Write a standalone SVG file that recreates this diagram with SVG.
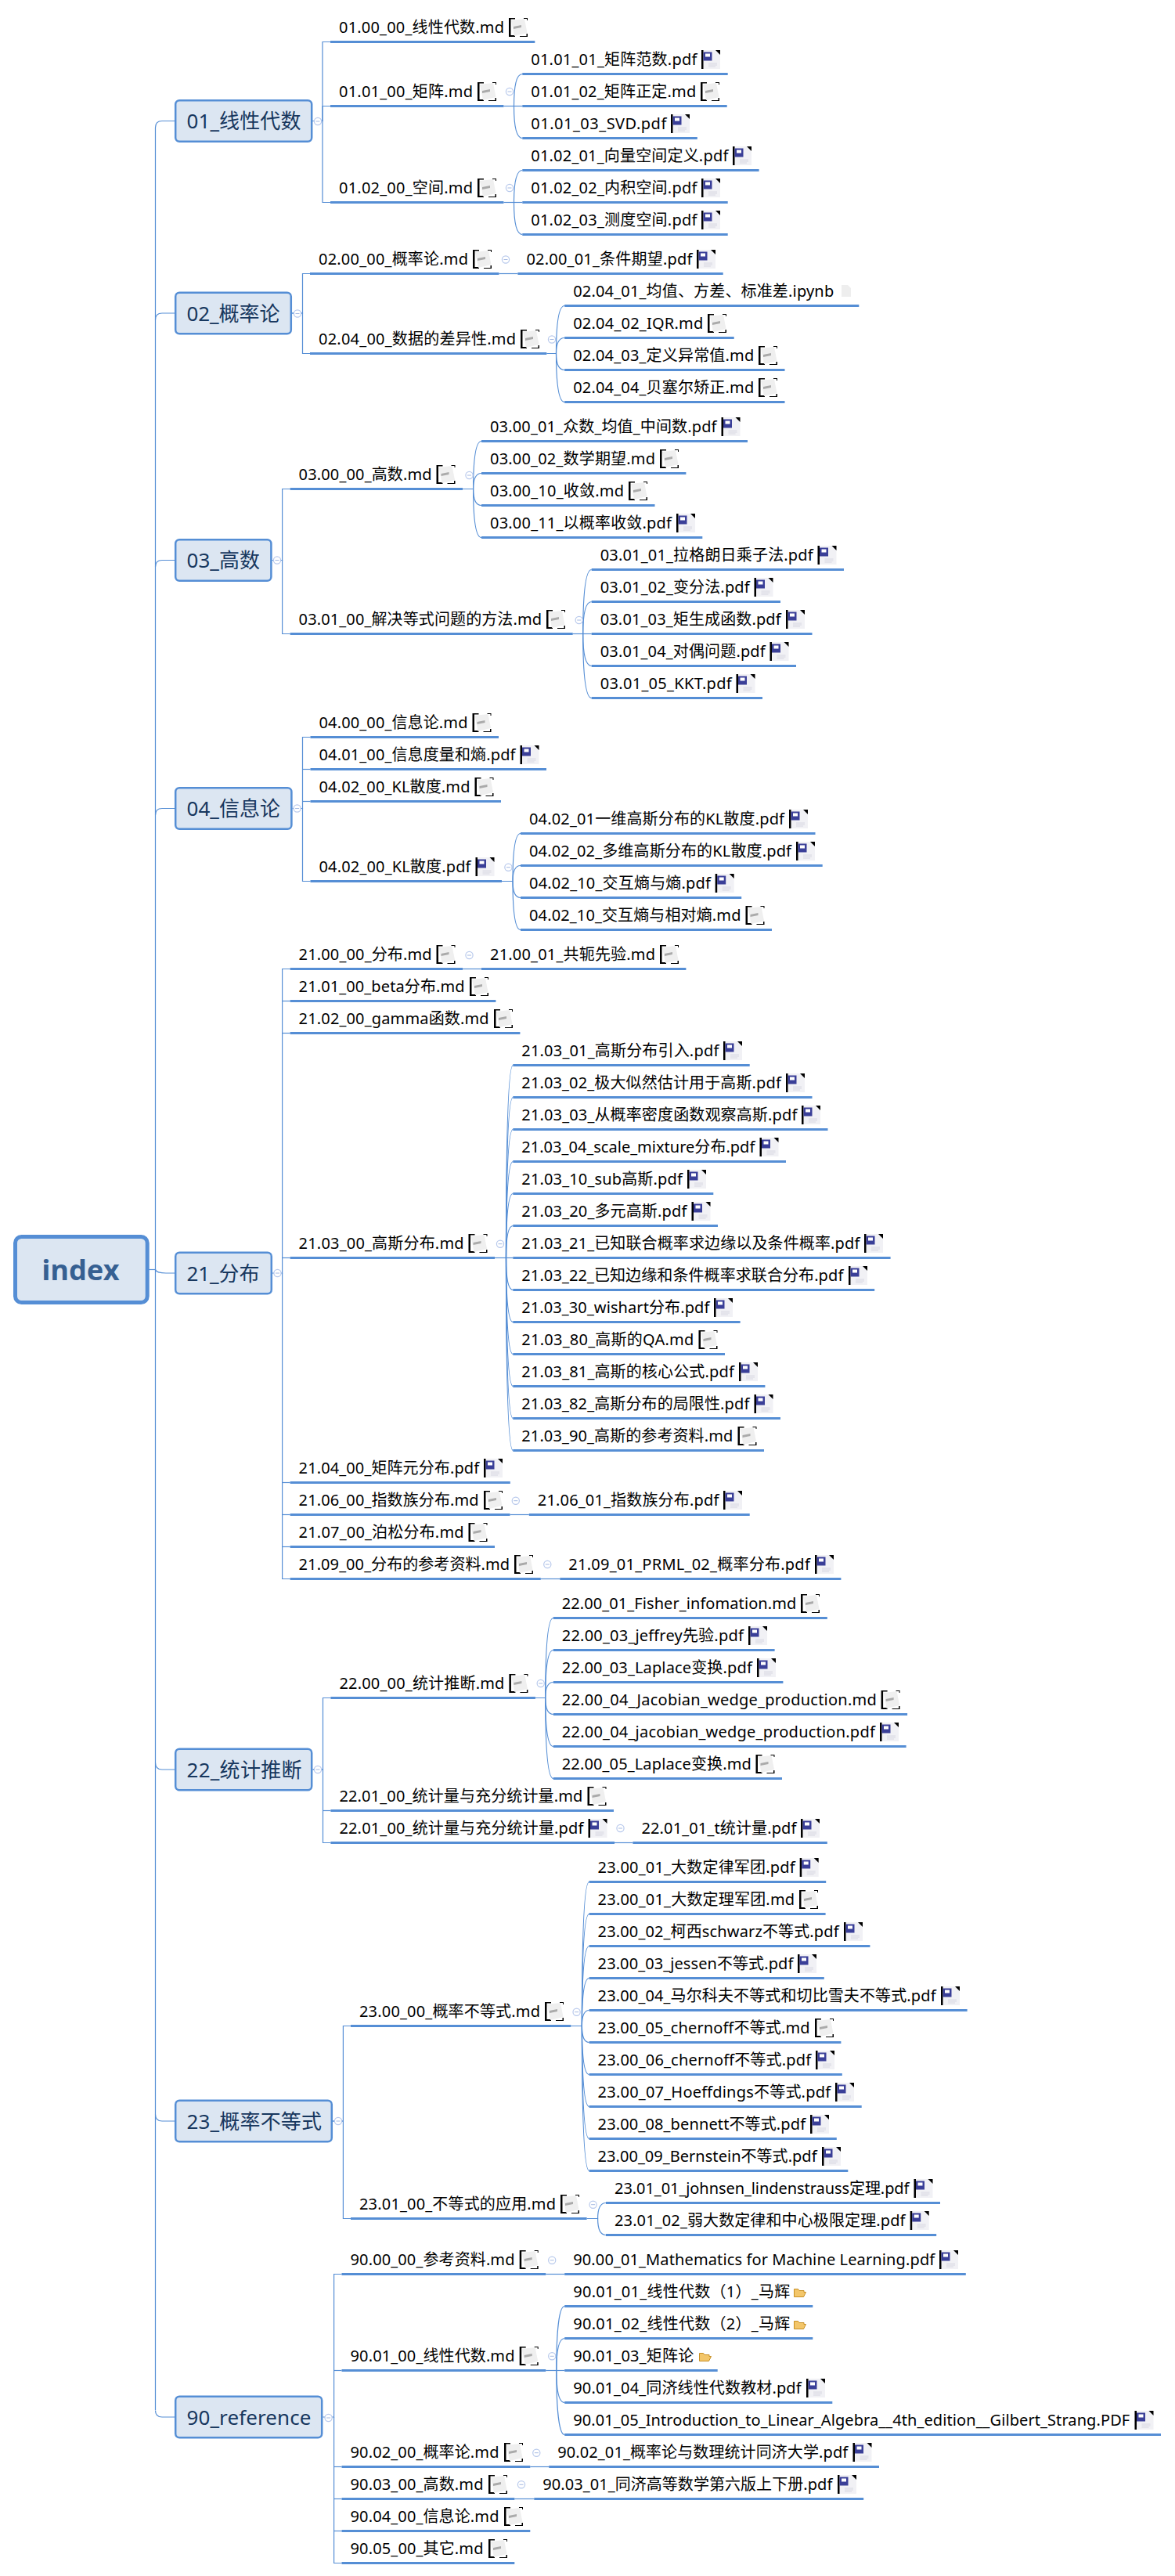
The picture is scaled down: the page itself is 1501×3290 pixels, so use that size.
<svg xmlns="http://www.w3.org/2000/svg" width="1501" height="3290" viewBox="0 0 1501 3290">
<style>
text{font-family:"Noto Sans","Noto Sans CJK SC",sans-serif;fill:#000;font-size:20px}
text.tp{font-size:26px;fill:#17375e}
text.rt{font-size:36px;font-weight:700;fill:#366092}
rect.u{fill:#558ed5;height:3px}
rect.topic{fill:#dce6f2;stroke:#558ed5;stroke-width:2.5}
rect.root{fill:#dce6f2;stroke:#558ed5;stroke-width:5}
#connectors path{fill:none;stroke:#558ed5;stroke-width:1.2}
</style>
<defs>
<g id="md"><path d="M0 0H8V1.5H2.5V22H8V24H0zM19 0H24V3H23V1H19zM14 23H22.5V20H24V24H14z" fill="#000"/><polygon points="3,3 20,1 23.5,19 7,23" fill="#efefef"/><path d="M6 11l10-2v3l-10 2z" fill="#aaa"/></g>
<g id="pdf"><rect width="24" height="24" fill="#f1f1f5"/><rect width="2.5" height="24" fill="#000"/><polygon points="18,0 24,0 24,6" fill="#000"/><rect x="2.5" y="2.5" width="11" height="11" fill="#3a3f98"/><rect x="5" y="4.5" width="6" height="4" fill="#fff"/><path d="M9 17h11M9 19h11M9 21h9" stroke="#d8d8e2" fill="none"/></g>
<g id="fold"><path d="M.5 1.5h5l1.5 2h6v2h2.5l-3 6h-12z" fill="#f3c66a" stroke="#c78f24"/></g>
<g id="nb"><path d="M0 0h8l4 4v11H0z" fill="#eee"/></g>
<g id="cc"><circle r="4.6" fill="#fff" stroke="#b8c9ec" stroke-width="1.2"/><path d="M-2.5 0h5" stroke="#a6bae2"/></g>
</defs>
<g id="connectors">
<path d="M190 1621.5H198.5"/><path d="M198.5 163V3078"/>
<path d="M198.5 163Q198.5 154.5 207 154.5H224"/><path d="M198.5 408.5Q198.5 400 207 400H224"/><path d="M198.5 724Q198.5 715.5 207 715.5H224"/><path d="M198.5 1041Q198.5 1032.5 207 1032.5H224"/>
<path d="M198.5 1621.5Q200 1626 212 1626H224"/><path d="M198.5 2251.5Q198.5 2260 207 2260H224"/><path d="M198.5 2700.5Q198.5 2709 207 2709H224"/><path d="M198.5 3078.5Q198.5 3087 207 3087H224"/>
<path d="M399 154.5H412V53.5H422"/><path d="M399 154.5H412V135.5H422"/><path d="M399 154.5H412V258.5H422"/>
<path d="M643.4 135.5H667.3"/><path d="M656.5 135.5C656.5 110.5 659.5 94.5 667.3 94.5"/><path d="M656.5 135.5C656.5 160.5 659.5 176.5 667.3 176.5"/>
<path d="M643.4 258.5H667.3"/><path d="M656.5 258.5C656.5 233.5 659.5 217.5 667.3 217.5"/><path d="M656.5 258.5C656.5 283.5 659.5 299.5 667.3 299.5"/>
<path d="M373 400H386.5V349.5H396"/><path d="M373 400H386.5V451.5H396"/><path d="M637.4 349.5H661.4"/>
<path d="M698.3 451.5H710.5C710.5 415 713.5 390.5 721.2 390.5"/><path d="M710.5 451.5C710.5 439.5 713.5 431.5 721.2 431.5"/><path d="M710.5 451.5C710.5 464 713.5 472.5 721.2 472.5"/><path d="M710.5 451.5C710.5 489 713.5 513.5 721.2 513.5"/>
<path d="M347.6 715.5H360.6V624.5H370.6"/><path d="M347.6 715.5H360.6V809.5H370.6"/>
<path d="M591 624.5H604.6C604.6 588 607.7 563.5 615 563.5"/><path d="M604.6 624.5C604.6 612.5 607.7 604.5 615 604.5"/><path d="M604.6 624.5C604.6 637 607.7 645.5 615 645.5"/><path d="M604.6 624.5C604.6 661.5 607.7 686.5 615 686.5"/>
<path d="M731.7 809.5H755.7"/><path d="M744.7 809.5C744.7 760 748 727.5 755.7 727.5"/><path d="M744.7 809.5C744.7 785 748 768.5 755.7 768.5"/><path d="M744.7 809.5C744.7 834 748 850.5 755.7 850.5"/><path d="M744.7 809.5C744.7 859 748 891.5 755.7 891.5"/>
<path d="M373.6 1032.5H386.5V941.5H396.5"/><path d="M386.5 982.5H396.5"/><path d="M386.5 1023.5H396.5"/><path d="M386.5 1032.5V1125.5H396.5"/>
<path d="M641 1125.5H655C655 1089 658 1064.5 665 1064.5"/><path d="M655 1125.5C655 1113.5 658 1105.5 665 1105.5"/><path d="M655 1125.5C655 1138 658 1146.5 665 1146.5"/><path d="M655 1125.5C655 1162.5 658 1187.5 665 1187.5"/>
<path d="M347.6 1626H360.6V1237.5H370.6"/><path d="M360.6 1278.5H370.6"/><path d="M360.6 1319.5H370.6"/><path d="M360.6 1606.5H370.6"/><path d="M360.6 1626V2016.5H370.6"/><path d="M360.6 1893.5H370.6"/><path d="M360.6 1934.5H370.6"/><path d="M360.6 1975.5H370.6"/>
<path d="M591 1237.5H615"/><path d="M651.5 1934.5H675.8"/><path d="M690.8 2016.5H715.3"/>
<path d="M632 1606.5H655.3"/><path d="M646.5 1606.5C646.5 1458.5 649 1360.5 655.3 1360.5"/><path d="M646.5 1606.5C646.5 1483.5 649 1401.5 655.3 1401.5"/><path d="M646.5 1606.5C646.5 1508.5 649 1442.5 655.3 1442.5"/><path d="M646.5 1606.5C646.5 1532.5 649 1483.5 655.3 1483.5"/><path d="M646.5 1606.5C646.5 1557.5 649 1524.5 655.3 1524.5"/><path d="M646.5 1606.5C646.5 1581.5 649 1565.5 655.3 1565.5"/>
<path d="M646.5 1606.5C646.5 1631.5 649 1647.5 655.3 1647.5"/><path d="M646.5 1606.5C646.5 1655.5 649 1688.5 655.3 1688.5"/><path d="M646.5 1606.5C646.5 1680.5 649 1729.5 655.3 1729.5"/><path d="M646.5 1606.5C646.5 1704.5 649 1770.5 655.3 1770.5"/><path d="M646.5 1606.5C646.5 1729.5 649 1811.5 655.3 1811.5"/><path d="M646.5 1606.5C646.5 1754.5 649 1852.5 655.3 1852.5"/>
<path d="M399.5 2260H412.5V2168.5H422.4"/><path d="M399.5 2260H412.5V2353.5H422.4"/><path d="M412.5 2312.5H422.4"/><path d="M785 2353.5H808.4"/>
<path d="M683.9 2168.5H696.7C696.7 2107.5 699.7 2066.5 706.8 2066.5"/><path d="M696.7 2168.5C696.7 2131.5 699.7 2107.5 706.8 2107.5"/><path d="M696.7 2168.5C696.7 2156.5 699.7 2148.5 706.8 2148.5"/><path d="M696.7 2168.5C696.7 2180.5 699.7 2189.5 706.8 2189.5"/><path d="M696.7 2168.5C696.7 2205.5 699.7 2230.5 706.8 2230.5"/><path d="M696.7 2168.5C696.7 2229.5 699.7 2271.5 706.8 2271.5"/>
<path d="M425 2709H438.4V2587.5H448"/><path d="M425 2709H438.4V2833.5H448"/>
<path d="M729.3 2587.5H743.4C743.4 2477.5 746 2403.5 752.6 2403.5"/><path d="M743.4 2587.5C743.4 2501.5 746 2444.5 752.6 2444.5"/><path d="M743.4 2587.5C743.4 2526.5 746 2485.5 752.6 2485.5"/><path d="M743.4 2587.5C743.4 2550.5 746 2526.5 752.6 2526.5"/><path d="M743.4 2587.5C743.4 2575.5 746 2567.5 752.6 2567.5"/>
<path d="M743.4 2587.5C743.4 2600 746 2608.5 752.6 2608.5"/><path d="M743.4 2587.5C743.4 2624.5 746 2649.5 752.6 2649.5"/><path d="M743.4 2587.5C743.4 2649 746 2690.5 752.6 2690.5"/><path d="M743.4 2587.5C743.4 2674 746 2731.5 752.6 2731.5"/><path d="M743.4 2587.5C743.4 2698.5 746 2772.5 752.6 2772.5"/>
<path d="M749.6 2833.5H763.6C763.6 2821.5 767 2813.5 774 2813.5"/><path d="M763.6 2833.5C763.6 2846 767 2854.5 774 2854.5"/>
<path d="M412.4 3087H426.6V2904.5H436.5"/><path d="M426.6 3027.5H436.5"/><path d="M426.6 3150.5H436.5"/><path d="M426.6 3191.5H436.5"/><path d="M426.6 3232.5H436.5"/><path d="M426.6 3087V3273.5H436.5"/>
<path d="M697.2 2904.5H721.2"/><path d="M677.3 3150.5H701.2"/><path d="M657.3 3191.5H682.3"/>
<path d="M697.2 3027.5H721.2"/><path d="M710.8 3027.5C710.8 2978.5 714 2945.5 721.2 2945.5"/><path d="M710.8 3027.5C710.8 3002.5 714 2986.5 721.2 2986.5"/><path d="M710.8 3027.5C710.8 3052.5 714 3068.5 721.2 3068.5"/><path d="M710.8 3027.5C710.8 3076.5 714 3109.5 721.2 3109.5"/>
<use href="#cc" x="406" y="155"/><use href="#cc" x="651" y="117"/><use href="#cc" x="651" y="240"/>
<use href="#cc" x="380" y="400.5"/><use href="#cc" x="646" y="331.5"/><use href="#cc" x="705" y="433.5"/>
<use href="#cc" x="354" y="715.5"/><use href="#cc" x="599.5" y="607"/><use href="#cc" x="739.7" y="792"/>
<use href="#cc" x="379.6" y="1032.5"/><use href="#cc" x="649.4" y="1107.7"/>
<use href="#cc" x="354.5" y="1626"/><use href="#cc" x="599.5" y="1220"/><use href="#cc" x="639" y="1588.7"/><use href="#cc" x="658.8" y="1916.7"/><use href="#cc" x="699.3" y="1998"/>
<use href="#cc" x="406" y="2260"/><use href="#cc" x="690.7" y="2150"/><use href="#cc" x="792.5" y="2335"/>
<use href="#cc" x="432" y="2709"/><use href="#cc" x="736.6" y="2569.7"/><use href="#cc" x="757.6" y="2815.7"/>
<use href="#cc" x="419.6" y="3088"/><use href="#cc" x="705.2" y="2886.7"/><use href="#cc" x="705.2" y="3009.3"/><use href="#cc" x="685.3" y="3132.7"/><use href="#cc" x="666" y="3173.3"/>
</g>
<g id="root"><rect class="root" x="19.5" y="1579.5" width="168.7" height="84" rx="8"/><text class="rt" x="53.5" y="1635" textLength="99">index</text></g>
<g id="t01"><rect class="topic" x="224.2" y="128.2" width="174" height="52.6" rx="5"/><text class="tp" x="238.5" y="164" textLength="146">01_线性代数</text></g>
<g id="t02"><rect class="topic" x="224.2" y="373.7" width="147.6" height="52.6" rx="5"/><text class="tp" x="238.5" y="409.5" textLength="119">02_概率论</text></g>
<g id="t03"><rect class="topic" x="224.2" y="689.2" width="122.2" height="52.6" rx="5"/><text class="tp" x="238.5" y="725" textLength="93.5">03_高数</text></g>
<g id="t04"><rect class="topic" x="224.2" y="1006.2" width="148.2" height="52.6" rx="5"/><text class="tp" x="238.5" y="1042" textLength="119.5">04_信息论</text></g>
<g id="t21"><rect class="topic" x="224.2" y="1599.7" width="122.6" height="52.6" rx="5"/><text class="tp" x="238.5" y="1635.5" textLength="93">21_分布</text></g>
<g id="t22"><rect class="topic" x="224.2" y="2233.7" width="174" height="52.6" rx="5"/><text class="tp" x="238.5" y="2269.5" textLength="147">22_统计推断</text></g>
<g id="t23"><rect class="topic" x="224.2" y="2682.7" width="199.6" height="52.6" rx="5"/><text class="tp" x="238.5" y="2718.5" textLength="172.5">23_概率不等式</text></g>
<g id="t90"><rect class="topic" x="224.2" y="3060.7" width="187" height="52.6" rx="5"/><text class="tp" x="238.5" y="3096.5" textLength="159">90_reference</text></g>

<g id="n0100"><text x="433" y="41.5" textLength="211">01.00_00_线性代数.md</text><use href="#md" x="650" y="23"/><rect class="u" x="422" y="52" width="261.3"/></g>
<g id="n0101"><text x="433" y="123.5" textLength="171">01.01_00_矩阵.md</text><use href="#md" x="610" y="105"/><rect class="u" x="422" y="134" width="221.4"/></g>
<g id="n0102"><text x="433" y="246.5" textLength="171">01.02_00_空间.md</text><use href="#md" x="610" y="228"/><rect class="u" x="422" y="257" width="221.4"/></g>
<g id="n010101"><text x="678.3" y="82.5" textLength="212">01.01_01_矩阵范数.pdf</text><use href="#pdf" x="896" y="64"/><rect class="u" x="667.3" y="93" width="262.4"/></g>
<g id="n010102"><text x="678.3" y="123.5" textLength="211">01.01_02_矩阵正定.md</text><use href="#md" x="895" y="105"/><rect class="u" x="667.3" y="134" width="261.4"/></g>
<g id="n010103"><text x="678.3" y="164.5" textLength="173">01.01_03_SVD.pdf</text><use href="#pdf" x="857" y="146"/><rect class="u" x="667.3" y="175" width="223.5"/></g>
<g id="n010201"><text x="678.3" y="205.5" textLength="252">01.02_01_向量空间定义.pdf</text><use href="#pdf" x="936" y="187"/><rect class="u" x="667.3" y="216" width="302.3"/></g>
<g id="n010202"><text x="678.3" y="246.5" textLength="212">01.02_02_内积空间.pdf</text><use href="#pdf" x="896" y="228"/><rect class="u" x="667.3" y="257" width="262.4"/></g>
<g id="n010203"><text x="678.3" y="287.5" textLength="212">01.02_03_测度空间.pdf</text><use href="#pdf" x="896" y="269"/><rect class="u" x="667.3" y="298" width="262.4"/></g>

<g id="n0200"><text x="407" y="337.5" textLength="191">02.00_00_概率论.md</text><use href="#md" x="604" y="319"/><rect class="u" x="396" y="348" width="241.4"/></g>
<g id="n020001"><text x="672.4" y="337.5" textLength="212">02.00_01_条件期望.pdf</text><use href="#pdf" x="890" y="319"/><rect class="u" x="661.4" y="348" width="262.3"/></g>
<g id="n0204"><text x="407" y="439.5" textLength="252">02.04_00_数据的差异性.md</text><use href="#md" x="665" y="421"/><rect class="u" x="396" y="450" width="302.3"/></g>
<g id="n020401"><text x="732.2" y="378.5" textLength="333">02.04_01_均值、方差、标准差.ipynb</text><use href="#nb" x="1075" y="364"/><rect class="u" x="721.2" y="389" width="376.1"/></g>
<g id="n020402"><text x="732.2" y="419.5" textLength="166">02.04_02_IQR.md</text><use href="#md" x="904" y="401"/><rect class="u" x="721.2" y="430" width="216.5"/></g>
<g id="n020403"><text x="732.2" y="460.5" textLength="231">02.04_03_定义异常值.md</text><use href="#md" x="969" y="442"/><rect class="u" x="721.2" y="471" width="281.3"/></g>
<g id="n020404"><text x="732.2" y="501.5" textLength="231">02.04_04_贝塞尔矫正.md</text><use href="#md" x="969" y="483"/><rect class="u" x="721.2" y="512" width="281.3"/></g>

<g id="n0300"><text x="381.6" y="612.5" textLength="170">03.00_00_高数.md</text><use href="#md" x="557.5" y="594"/><rect class="u" x="370.6" y="623" width="220.4"/></g>
<g id="n030001"><text x="626" y="551.5" textLength="289.5">03.00_01_众数_均值_中间数.pdf</text><use href="#pdf" x="921.5" y="533"/><rect class="u" x="615" y="562" width="340"/></g>
<g id="n030002"><text x="626" y="592.5" textLength="211">03.00_02_数学期望.md</text><use href="#md" x="843" y="574"/><rect class="u" x="615" y="603" width="261.4"/></g>
<g id="n030010"><text x="626" y="633.5" textLength="171">03.00_10_收敛.md</text><use href="#md" x="803" y="615"/><rect class="u" x="615" y="644" width="221.5"/></g>
<g id="n030011"><text x="626" y="674.5" textLength="232">03.00_11_以概率收敛.pdf</text><use href="#pdf" x="864" y="656"/><rect class="u" x="615" y="685" width="282.3"/></g>
<g id="n0301"><text x="381.6" y="797.5" textLength="310.5">03.01_00_解决等式问题的方法.md</text><use href="#md" x="698" y="779"/><rect class="u" x="370.6" y="808" width="361.1"/></g>
<g id="n030101"><text x="766.7" y="715.5" textLength="272">03.01_01_拉格朗日乘子法.pdf</text><use href="#pdf" x="1044.5" y="697"/><rect class="u" x="755.7" y="726" width="322.3"/></g>
<g id="n030102"><text x="766.7" y="756.5" textLength="191">03.01_02_变分法.pdf</text><use href="#pdf" x="963.5" y="738"/><rect class="u" x="755.7" y="767" width="241.3"/></g>
<g id="n030103"><text x="766.7" y="797.5" textLength="231">03.01_03_矩生成函数.pdf</text><use href="#pdf" x="1004" y="779"/><rect class="u" x="755.7" y="808" width="281.8"/></g>
<g id="n030104"><text x="766.7" y="838.5" textLength="211">03.01_04_对偶问题.pdf</text><use href="#pdf" x="983.5" y="820"/><rect class="u" x="755.7" y="849" width="261.3"/></g>
<g id="n030105"><text x="766.7" y="879.5" textLength="168">03.01_05_KKT.pdf</text><use href="#pdf" x="940.5" y="861"/><rect class="u" x="755.7" y="890" width="218.3"/></g>

<g id="n0400"><text x="407.5" y="929.5" textLength="190">04.00_00_信息论.md</text><use href="#md" x="603.5" y="911"/><rect class="u" x="396.5" y="940" width="240.5"/></g>
<g id="n0401"><text x="407.5" y="970.5" textLength="251">04.01_00_信息度量和熵.pdf</text><use href="#pdf" x="664.5" y="952"/><rect class="u" x="396.5" y="981" width="301.5"/></g>
<g id="n0402a"><text x="407.5" y="1011.5" textLength="193">04.02_00_KL散度.md</text><use href="#md" x="606.5" y="993"/><rect class="u" x="396.5" y="1022" width="243.5"/></g>
<g id="n0402b"><text x="407.5" y="1113.5" textLength="194">04.02_00_KL散度.pdf</text><use href="#pdf" x="607.5" y="1095"/><rect class="u" x="396.5" y="1124" width="244.5"/></g>
<g id="n040201"><text x="676" y="1052.5" textLength="326">04.02_01一维高斯分布的KL散度.pdf</text><use href="#pdf" x="1008" y="1034"/><rect class="u" x="665" y="1063" width="376.5"/></g>
<g id="n040202"><text x="676" y="1093.5" textLength="335">04.02_02_多维高斯分布的KL散度.pdf</text><use href="#pdf" x="1017" y="1075"/><rect class="u" x="665" y="1104" width="385.7"/></g>
<g id="n040210a"><text x="676" y="1134.5" textLength="232">04.02_10_交互熵与熵.pdf</text><use href="#pdf" x="913.7" y="1116"/><rect class="u" x="665" y="1145" width="282.2"/></g>
<g id="n040210b"><text x="676" y="1175.5" textLength="270.5">04.02_10_交互熵与相对熵.md</text><use href="#md" x="952.5" y="1157"/><rect class="u" x="665" y="1186" width="321"/></g>

<g id="n2100"><text x="381.6" y="1225.5" textLength="170">21.00_00_分布.md</text><use href="#md" x="557.5" y="1207"/><rect class="u" x="370.6" y="1236" width="220.4"/></g>
<g id="n210001"><text x="626" y="1225.5" textLength="211">21.00_01_共轭先验.md</text><use href="#md" x="843" y="1207"/><rect class="u" x="615" y="1236" width="261.4"/></g>
<g id="n2101"><text x="381.6" y="1266.5" textLength="212">21.01_00_beta分布.md</text><use href="#md" x="600" y="1248"/><rect class="u" x="370.6" y="1277" width="262.8"/></g>
<g id="n2102"><text x="381.6" y="1307.5" textLength="243">21.02_00_gamma函数.md</text><use href="#md" x="631" y="1289"/><rect class="u" x="370.6" y="1318" width="293.8"/></g>
<g id="n2103"><text x="381.6" y="1594.5" textLength="211">21.03_00_高斯分布.md</text><use href="#md" x="598.5" y="1576"/><rect class="u" x="370.6" y="1605" width="261.4"/></g>
<g id="n210301"><text x="666.3" y="1348.5" textLength="252">21.03_01_高斯分布引入.pdf</text><use href="#pdf" x="924" y="1330"/><rect class="u" x="655.3" y="1359" width="302.4"/></g>
<g id="n210302"><text x="666.3" y="1389.5" textLength="331.5">21.03_02_极大似然估计用于高斯.pdf</text><use href="#pdf" x="1004" y="1371"/><rect class="u" x="655.3" y="1400" width="382.2"/></g>
<g id="n210303"><text x="666.3" y="1430.5" textLength="352">21.03_03_从概率密度函数观察高斯.pdf</text><use href="#pdf" x="1024" y="1412"/><rect class="u" x="655.3" y="1441" width="402.2"/></g>
<g id="n210304"><text x="666.3" y="1471.5" textLength="298">21.03_04_scale_mixture分布.pdf</text><use href="#pdf" x="970.5" y="1453"/><rect class="u" x="655.3" y="1482" width="348.7"/></g>
<g id="n210310"><text x="666.3" y="1512.5" textLength="205.5">21.03_10_sub高斯.pdf</text><use href="#pdf" x="878" y="1494"/><rect class="u" x="655.3" y="1523" width="256"/></g>
<g id="n210320"><text x="666.3" y="1553.5" textLength="211">21.03_20_多元高斯.pdf</text><use href="#pdf" x="883.5" y="1535"/><rect class="u" x="655.3" y="1564" width="261.7"/></g>
<g id="n210321"><text x="666.3" y="1594.5" textLength="432">21.03_21_已知联合概率求边缘以及条件概率.pdf</text><use href="#pdf" x="1104" y="1576"/><rect class="u" x="655.3" y="1605" width="482.3"/></g>
<g id="n210322"><text x="666.3" y="1635.5" textLength="411">21.03_22_已知边缘和条件概率求联合分布.pdf</text><use href="#pdf" x="1084" y="1617"/><rect class="u" x="655.3" y="1646" width="461.9"/></g>
<g id="n210330"><text x="666.3" y="1676.5" textLength="240">21.03_30_wishart分布.pdf</text><use href="#pdf" x="912" y="1658"/><rect class="u" x="655.3" y="1687" width="290.3"/></g>
<g id="n210380"><text x="666.3" y="1717.5" textLength="220">21.03_80_高斯的QA.md</text><use href="#md" x="892.5" y="1699"/><rect class="u" x="655.3" y="1728" width="270.7"/></g>
<g id="n210381"><text x="666.3" y="1758.5" textLength="271.5">21.03_81_高斯的核心公式.pdf</text><use href="#pdf" x="944" y="1740"/><rect class="u" x="655.3" y="1769" width="322.1"/></g>
<g id="n210382"><text x="666.3" y="1799.5" textLength="291">21.03_82_高斯分布的局限性.pdf</text><use href="#pdf" x="963.5" y="1781"/><rect class="u" x="655.3" y="1810" width="341.7"/></g>
<g id="n210390"><text x="666.3" y="1840.5" textLength="270">21.03_90_高斯的参考资料.md</text><use href="#md" x="942.5" y="1822"/><rect class="u" x="655.3" y="1851" width="320.7"/></g>
<g id="n2104"><text x="381.6" y="1881.5" textLength="230.5">21.04_00_矩阵元分布.pdf</text><use href="#pdf" x="618" y="1863"/><rect class="u" x="370.6" y="1892" width="281.2"/></g>
<g id="n2106"><text x="381.6" y="1922.5" textLength="230">21.06_00_指数族分布.md</text><use href="#md" x="618" y="1904"/><rect class="u" x="370.6" y="1933" width="280.9"/></g>
<g id="n210601"><text x="686.8" y="1922.5" textLength="231.5">21.06_01_指数族分布.pdf</text><use href="#pdf" x="924" y="1904"/><rect class="u" x="675.8" y="1933" width="281.9"/></g>
<g id="n2107"><text x="381.6" y="1963.5" textLength="211">21.07_00_泊松分布.md</text><use href="#md" x="598.5" y="1945"/><rect class="u" x="370.6" y="1974" width="261.4"/></g>
<g id="n2109"><text x="381.6" y="2004.5" textLength="269.5">21.09_00_分布的参考资料.md</text><use href="#md" x="657" y="1986"/><rect class="u" x="370.6" y="2015" width="320.2"/></g>
<g id="n210901"><text x="726.3" y="2004.5" textLength="308.5">21.09_01_PRML_02_概率分布.pdf</text><use href="#pdf" x="1041" y="1986"/><rect class="u" x="715.3" y="2015" width="359.1"/></g>

<g id="n2200"><text x="433.4" y="2156.5" textLength="211">22.00_00_统计推断.md</text><use href="#md" x="650.4" y="2138"/><rect class="u" x="422.4" y="2167" width="261.5"/></g>
<g id="n220001"><text x="717.8" y="2054.5" textLength="299.5">22.00_01_Fisher_infomation.md</text><use href="#md" x="1023" y="2036"/><rect class="u" x="706.8" y="2065" width="350"/></g>
<g id="n220003a"><text x="717.8" y="2095.5" textLength="232">22.00_03_jeffrey先验.pdf</text><use href="#pdf" x="956" y="2077"/><rect class="u" x="706.8" y="2106" width="282.8"/></g>
<g id="n220003b"><text x="717.8" y="2136.5" textLength="243">22.00_03_Laplace变换.pdf</text><use href="#pdf" x="967" y="2118"/><rect class="u" x="706.8" y="2147" width="293.6"/></g>
<g id="n220004a"><text x="717.8" y="2177.5" textLength="402">22.00_04_Jacobian_wedge_production.md</text><use href="#md" x="1125.6" y="2159"/><rect class="u" x="706.8" y="2188" width="452.3"/></g>
<g id="n220004b"><text x="717.8" y="2218.5" textLength="400">22.00_04_jacobian_wedge_production.pdf</text><use href="#pdf" x="1124" y="2200"/><rect class="u" x="706.8" y="2229" width="450.8"/></g>
<g id="n220005"><text x="717.8" y="2259.5" textLength="242">22.00_05_Laplace变换.md</text><use href="#md" x="965.5" y="2241"/><rect class="u" x="706.8" y="2270" width="292.2"/></g>
<g id="n2201a"><text x="433.4" y="2300.5" textLength="311">22.01_00_统计量与充分统计量.md</text><use href="#md" x="750.5" y="2282"/><rect class="u" x="422.4" y="2311" width="361.6"/></g>
<g id="n2201b"><text x="433.4" y="2341.5" textLength="312">22.01_00_统计量与充分统计量.pdf</text><use href="#pdf" x="751.5" y="2323"/><rect class="u" x="422.4" y="2352" width="362.6"/></g>
<g id="n220101"><text x="819.4" y="2341.5" textLength="198">22.01_01_t统计量.pdf</text><use href="#pdf" x="1023" y="2323"/><rect class="u" x="808.4" y="2352" width="248.4"/></g>

<g id="n2300"><text x="459" y="2575.5" textLength="231">23.00_00_概率不等式.md</text><use href="#md" x="696" y="2557"/><rect class="u" x="448" y="2586" width="281.3"/></g>
<g id="n230001a"><text x="763.6" y="2391.5" textLength="252">23.00_01_大数定律军团.pdf</text><use href="#pdf" x="1021.7" y="2373"/><rect class="u" x="752.6" y="2402" width="302.6"/></g>
<g id="n230001b"><text x="763.6" y="2432.5" textLength="251.5">23.00_01_大数定理军团.md</text><use href="#md" x="1021" y="2414"/><rect class="u" x="752.6" y="2443" width="302"/></g>
<g id="n230002"><text x="763.6" y="2473.5" textLength="308">23.00_02_柯西schwarz不等式.pdf</text><use href="#pdf" x="1078" y="2455"/><rect class="u" x="752.6" y="2484" width="358.8"/></g>
<g id="n230003"><text x="763.6" y="2514.5" textLength="249.7">23.00_03_jessen不等式.pdf</text><use href="#pdf" x="1019" y="2496"/><rect class="u" x="752.6" y="2525" width="300.2"/></g>
<g id="n230004"><text x="763.6" y="2555.5" textLength="432">23.00_04_马尔科夫不等式和切比雪夫不等式.pdf</text><use href="#pdf" x="1202" y="2537"/><rect class="u" x="752.6" y="2566" width="483"/></g>
<g id="n230005"><text x="763.6" y="2596.5" textLength="271">23.00_05_chernoff不等式.md</text><use href="#md" x="1041" y="2578"/><rect class="u" x="752.6" y="2607" width="321.8"/></g>
<g id="n230006"><text x="763.6" y="2637.5" textLength="272.5">23.00_06_chernoff不等式.pdf</text><use href="#pdf" x="1042" y="2619"/><rect class="u" x="752.6" y="2648" width="323.2"/></g>
<g id="n230007"><text x="763.6" y="2678.5" textLength="297.5">23.00_07_Hoeffdings不等式.pdf</text><use href="#pdf" x="1067" y="2660"/><rect class="u" x="752.6" y="2689" width="348.1"/></g>
<g id="n230008"><text x="763.6" y="2719.5" textLength="265.5">23.00_08_bennett不等式.pdf</text><use href="#pdf" x="1035" y="2701"/><rect class="u" x="752.6" y="2730" width="316.2"/></g>
<g id="n230009"><text x="763.6" y="2760.5" textLength="280">23.00_09_Bernstein不等式.pdf</text><use href="#pdf" x="1050" y="2742"/><rect class="u" x="752.6" y="2771" width="330.7"/></g>
<g id="n2301"><text x="459" y="2821.5" textLength="251">23.01_00_不等式的应用.md</text><use href="#md" x="716" y="2803"/><rect class="u" x="448" y="2832" width="301.6"/></g>
<g id="n230101"><text x="785" y="2801.5" textLength="376.5">23.01_01_johnsen_lindenstrauss定理.pdf</text><use href="#pdf" x="1167.5" y="2783"/><rect class="u" x="774" y="2812" width="427"/></g>
<g id="n230102"><text x="785" y="2842.5" textLength="371.5">23.01_02_弱大数定律和中心极限定理.pdf</text><use href="#pdf" x="1162.7" y="2824"/><rect class="u" x="774" y="2853" width="422.2"/></g>

<g id="n9000"><text x="447.5" y="2892.5" textLength="210">90.00_00_参考资料.md</text><use href="#md" x="663.7" y="2874"/><rect class="u" x="436.5" y="2903" width="260.7"/></g>
<g id="n900001"><text x="732.2" y="2892.5" textLength="462">90.00_01_Mathematics for Machine Learning.pdf</text><use href="#pdf" x="1200" y="2874"/><rect class="u" x="721.2" y="2903" width="512.6"/></g>
<g id="n9001"><text x="447.5" y="3015.5" textLength="210">90.01_00_线性代数.md</text><use href="#md" x="663.7" y="2997"/><rect class="u" x="436.5" y="3026" width="260.7"/></g>
<g id="n900101"><text x="732.2" y="2933.5" textLength="277">90.01_01_线性代数（1）_马辉</text><use href="#fold" x="1014" y="2922"/><rect class="u" x="721.2" y="2944" width="317.1"/></g>
<g id="n900102"><text x="732.2" y="2974.5" textLength="277">90.01_02_线性代数（2）_马辉</text><use href="#fold" x="1014" y="2963"/><rect class="u" x="721.2" y="2985" width="317.1"/></g>
<g id="n900103"><text x="732.2" y="3015.5" textLength="154">90.01_03_矩阵论</text><use href="#fold" x="893" y="3004"/><rect class="u" x="721.2" y="3026" width="195.5"/></g>
<g id="n900104"><text x="732.2" y="3056.5" textLength="291.5">90.01_04_同济线性代数教材.pdf</text><use href="#pdf" x="1030" y="3038"/><rect class="u" x="721.2" y="3067" width="342.1"/></g>
<g id="n900105"><text x="732.2" y="3097.5" textLength="711">90.01_05_Introduction_to_Linear_Algebra__4th_edition__Gilbert_Strang.PDF</text><use href="#pdf" x="1449.5" y="3079"/><rect class="u" x="721.2" y="3108" width="761.8"/></g>
<g id="n9002"><text x="447.5" y="3138.5" textLength="190">90.02_00_概率论.md</text><use href="#md" x="644" y="3120"/><rect class="u" x="436.5" y="3149" width="240.8"/></g>
<g id="n900201"><text x="712.2" y="3138.5" textLength="371">90.02_01_概率论与数理统计同济大学.pdf</text><use href="#pdf" x="1089.5" y="3120"/><rect class="u" x="701.2" y="3149" width="421.8"/></g>
<g id="n9003"><text x="447.5" y="3179.5" textLength="170">90.03_00_高数.md</text><use href="#md" x="624" y="3161"/><rect class="u" x="436.5" y="3190" width="220.8"/></g>
<g id="n900301"><text x="693.3" y="3179.5" textLength="370">90.03_01_同济高等数学第六版上下册.pdf</text><use href="#pdf" x="1070" y="3161"/><rect class="u" x="682.3" y="3190" width="420.9"/></g>
<g id="n9004"><text x="447.5" y="3220.5" textLength="190">90.04_00_信息论.md</text><use href="#md" x="644" y="3202"/><rect class="u" x="436.5" y="3231" width="240.8"/></g>
<g id="n9005"><text x="447.5" y="3261.5" textLength="170">90.05_00_其它.md</text><use href="#md" x="624" y="3243"/><rect class="u" x="436.5" y="3272" width="220.8"/></g>
</svg>
